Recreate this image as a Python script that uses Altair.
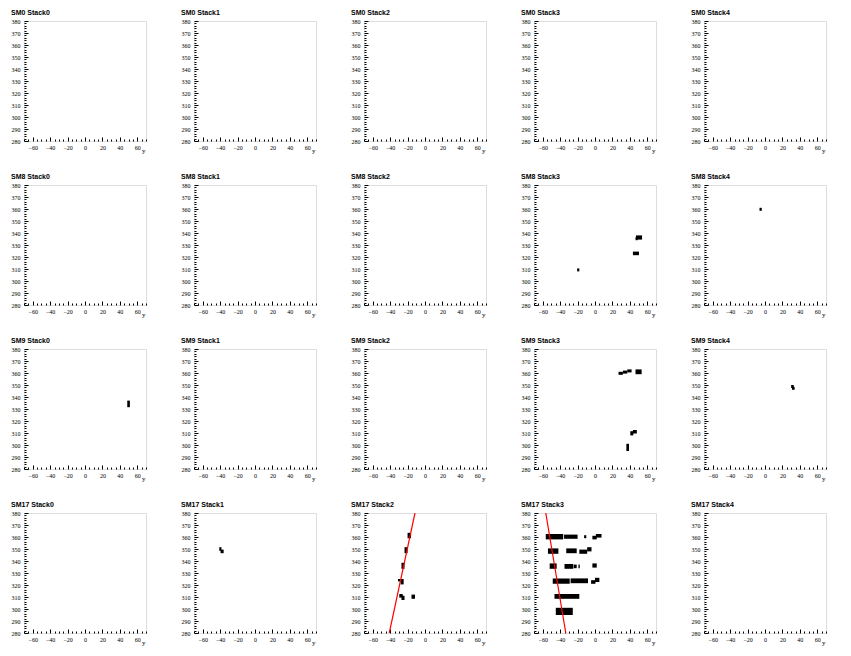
import altair as alt
import pandas as pd

# ---------------- data ----------------
MODULES = ["SM0", "SM8", "SM9", "SM17"]
STACKS = ["Stack0", "Stack1", "Stack2", "Stack3", "Stack4"]

X_DOMAIN = [-70, 70]
Y_DOMAIN = [280, 380]
X_LABELS = [-60, -40, -20, 0, 20, 40, 60]
Y_LABELS = [280, 290, 300, 310, 320, 330, 340, 350, 360, 370, 380]
X_TICKS = list(range(-70, 71, 5))
Y_TICKS = list(range(280, 381, 2))

# hit boxes: (x_low, x_high, y_low, y_high)
SM8_STACK3 = [(-20.5, -18, 308, 310.5), (47, 54, 334.5, 338), (46.5, 49, 334, 336.5),
              (43.5, 50.5, 321.5, 324.5)]
SM8_STACK4 = [(-6.3, -3.7, 358.5, 361)]
SM9_STACK0 = [(48.5, 51.5, 331.5, 337)]
SM9_STACK3 = [(27, 32, 358.5, 361), (32, 37, 359.5, 362), (37, 42, 360.5, 363),
              (46.5, 53.5, 359, 363), (40.5, 44, 308, 311.5), (43.5, 48, 309.5, 312.5),
              (36, 39, 295, 301)]
SM9_STACK4 = [(30, 33, 347.5, 350), (31, 34, 346, 348.5)]
SM17_STACK1 = [(-41, -38.5, 348.5, 351.5), (-39.5, -36, 346.5, 349.5)]
SM17_STACK2 = [(-20, -16, 359, 363.5), (-23.5, -20, 346.5, 351.5), (-27, -23.5, 333.5, 338.5),
               (-31, -26, 323, 325), (-28, -24.5, 320.5, 325), (-29.5, -25.5, 309.5, 312.5),
               (-27, -23.5, 307.5, 311), (-15.5, -11.5, 308.5, 312)]
SM17_STACK3 = [(-56.5, -36.5, 358, 362.5), (-35.5, -20, 358.5, 362), (-12.5, -10, 359, 361.5),
               (-3, 2, 358, 361), (1, 7.5, 359.5, 362.5),
               (-54, -42, 346, 350.5), (-33, -21, 346.5, 350.5), (-18, -9, 346, 349.5),
               (-9, -4, 348, 351.5),
               (-52, -44, 333.5, 338), (-35, -25, 333.5, 337.5), (-24.5, -21, 334, 337),
               (-19, -17.5, 334, 337), (-3, 2, 334.5, 338),
               (-48.5, -29, 321, 325.5), (-28, -8, 321.5, 325.5), (-4.5, 0.5, 321, 324),
               (0, 5, 322.5, 326),
               (-46.5, -18, 308.5, 312.5),
               (-45, -25.5, 295, 301)]

# track fits: (x, y) end points
FIT_SM17_STACK2 = [(-41, 280), (-11.5, 380)]
FIT_SM17_STACK3 = [(-56.5, 380), (-33.5, 280)]

HITS = {
    ("SM8", "Stack3"): SM8_STACK3,
    ("SM8", "Stack4"): SM8_STACK4,
    ("SM9", "Stack0"): SM9_STACK0,
    ("SM9", "Stack3"): SM9_STACK3,
    ("SM9", "Stack4"): SM9_STACK4,
    ("SM17", "Stack1"): SM17_STACK1,
    ("SM17", "Stack2"): SM17_STACK2,
    ("SM17", "Stack3"): SM17_STACK3,
}
FITS = {
    ("SM17", "Stack2"): FIT_SM17_STACK2,
    ("SM17", "Stack3"): FIT_SM17_STACK3,
}

# ---------------- styling ----------------
W, H = 122, 120
SERIF = "Liberation Serif"
SANS = "Liberation Sans"


def panel(sm, st):
    boxes = pd.DataFrame(HITS.get((sm, st), []), columns=["x1", "x2", "y1", "y2"])
    xs = alt.Scale(domain=X_DOMAIN, nice=False, zero=False)
    ys = alt.Scale(domain=Y_DOMAIN, nice=False, zero=False)

    x_lab = alt.Axis(values=X_LABELS, ticks=False, tickSize=0, domain=False, grid=False,
                     labelFont=SERIF, labelFontSize=6, labelPadding=3, labelColor="black",
                     labelOverlap=False, labelFlush=False,
                     title="y", titleFont=SERIF, titleFontSize=7, titleFontWeight="normal",
                     titleColor="black", titleX=W - 1, titleY=11.5, titleAlign="right",
                     titleBaseline="alphabetic", orient="bottom")
    y_lab = alt.Axis(values=Y_LABELS, ticks=False, tickSize=0, domain=False, grid=False,
                     labelFont=SERIF, labelFontSize=6, labelPadding=4, labelColor="black",
                     labelOverlap=False, title=None, orient="left")

    x_tick = alt.Axis(values=X_TICKS, labels=False, domain=False, grid=False, title=None,
                      orient="top", offset=-H, tickColor="black", tickWidth=1,
                      tickSize={"condition": {"test": "datum.value % 20 === 0", "value": 4},
                                "value": 2},
                      minExtent=0, maxExtent=0)
    y_tick = alt.Axis(values=Y_TICKS, labels=False, domain=False, grid=False, title=None,
                      orient="right", offset=-W, tickColor="black", tickWidth=1,
                      tickSize={"condition": {"test": "datum.value % 10 === 0", "value": 4},
                                "value": 2},
                      minExtent=0, maxExtent=0)

    hits = alt.Chart(boxes).mark_rect(color="black", strokeWidth=0).encode(
        x=alt.X("x1:Q", scale=xs, axis=x_lab),
        x2="x2:Q",
        y=alt.Y("y1:Q", scale=ys, axis=y_lab),
        y2="y2:Q",
    )
    ticks = alt.Chart(boxes).mark_point(opacity=0).encode(
        x=alt.X("x1:Q", scale=xs, axis=x_tick),
        y=alt.Y("y1:Q", scale=ys, axis=y_tick),
    )
    layers = [hits, ticks]
    if (sm, st) in FITS:
        fit = pd.DataFrame(FITS[(sm, st)], columns=["fx", "fy"])
        layers.append(
            alt.Chart(fit).mark_line(color="red", strokeWidth=1.2, clip=True).encode(
                x=alt.X("fx:Q", scale=xs, axis=None),
                y=alt.Y("fy:Q", scale=ys, axis=None),
                order="fy:Q")
        )
    return alt.layer(*layers).resolve_axis(x="independent", y="independent").properties(
        width=W, height=H,
        title=alt.TitleParams(f"{sm} {st}", anchor="start", frame="bounds", font=SANS,
                              fontSize=7, fontWeight="bold", color="black", offset=2),
    )


rows = [alt.hconcat(*[panel(sm, st) for st in STACKS], spacing=33) for sm in MODULES]
chart = alt.vconcat(*rows, spacing=18).properties(
    padding={"left": 2, "top": 0, "right": 5, "bottom": 5}
).configure_view(stroke="black", strokeWidth=1).configure(background="white")

chart.save("out.html", embed_options={"renderer": "svg", "actions": False})
